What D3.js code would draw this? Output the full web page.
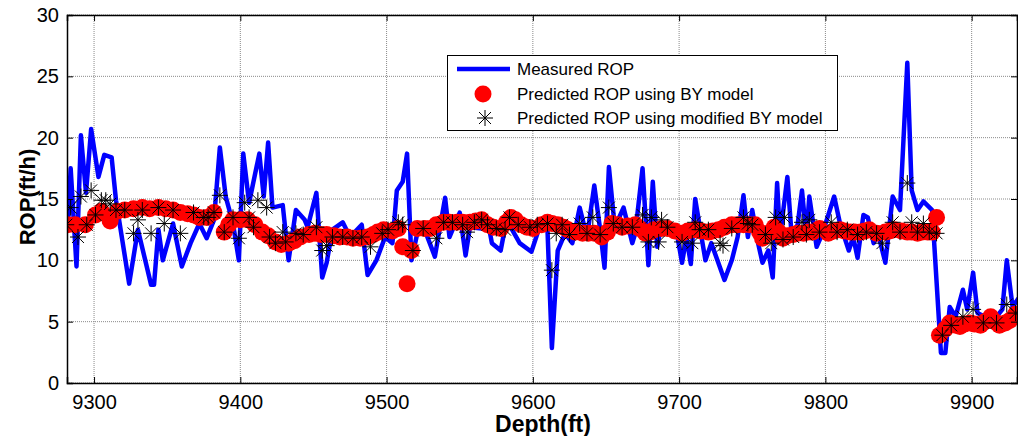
<!DOCTYPE html>
<html>
<head>
<meta charset="utf-8">
<script src="https://d3js.org/d3.v7.min.js"></script>
<style>
  html, body { margin: 0; padding: 0; background: #fff; }
  svg { display: block; font-family: "Liberation Sans", Arial, sans-serif; }
  .tick text { fill: #000; }
</style>
</head>
<body>
<div id="chart"></div>
<script>
// measured ROP (blue line)
const measuredDepth = [9282,9284,9288,9291,9294.5,9298,9303,9307,9312,9315,9324,9330,9339,9341,9344,9347,9354,9360,9366,9372,9377,9382,9386,9390,9395,9399,9402,9406,9413,9416,9419,9422,9429,9433,9438,9444,
  9446,9452,9456,9459,9463,9470,9475,9483,9487,9493,9499,9504,9507,9511,9514,9517,9521,9526,9533,9540,9543,9550,9554,9557,9565,9569,9572,9578,9582,9591,9599,9604,
  9606,9610,9613,9617,9622,9627,9632,9637,9642,9646,9649,9652,9656,9662,9668,9670,9675,9679,9682,9685,9688,9692,9698,9702,9705,9708,9711,9716,9718,9722,9731,9736,9740,9744,9747,9750,9754,9757,9761,9764,
  9767,9769,9774,9777,9781,9784,9787,9789,9794,9798,9806,9810,9816,9819,9822,9826,9829,9833,9836,9841,9846,9851,9856,9859,9863,9867,9873,9879,9882,9885,9889,9894,9897,9901,9904,9909,9915,9921,9924,9928,9932];
const measuredRop = [12.5,17.5,9.5,20.2,15.5,20.7,16.8,18.6,18.4,14.9,8.1,12.5,8.0,8.0,12.5,10.0,13.0,9.5,11.4,13.0,11.8,13.3,19.2,15.2,13.0,10.0,18.7,14.7,18.7,15.2,19.6,14.3,14.5,10.0,14.1,13.3,
  12.7,15.5,8.6,9.8,12.5,13.1,11.9,12.9,8.8,10.0,11.9,11.4,15.7,16.4,18.7,10.0,12.2,12.5,10.3,15.1,11.9,13.9,10.4,12.7,12.6,13.3,11.4,10.8,13.3,11.4,10.7,12.5,
  12.7,12.5,2.85,10.8,12.2,11.4,14.3,11.9,16.1,12.5,9.4,17.6,12.7,14.3,11.4,12.2,17.5,9.6,16.4,11.1,13.0,12.5,12.5,9.8,11.9,9.7,15.0,11.4,10.0,11.4,8.4,10.0,11.9,15.3,11.9,14.1,11.4,9.8,10.8,8.6,
  16.3,11.9,16.8,11.9,12.9,15.7,11.9,15.2,11.1,12.2,15.2,13.0,10.8,11.9,10.2,13.7,13.5,11.4,12.2,9.8,15.2,14.1,26.1,15.7,14.1,14.8,14.1,2.45,2.45,6.2,5.4,7.6,6.0,9.0,5.7,5.4,5.1,6.0,10.0,6.2,6.9];

// predicted ROP, BY model (red dots)
const byDepth = [9282,9287,9294,9301,9305,9311,9316,9321,9327,9333,9338,9344,9349,9354,9359,9364,9368,9372,9377,9382,9389,9392,9395,9400,9405,9410,9415,9419,9424,9428,9433,9437,9441,
  9447,9451,9455,9459,9464,9468,9473,9477,9482,9487,9491,9494,9498,9504,9508,9511,9514,9517,9521,9526,9530,9534,9539,9543,9548,9552,9557,9561,9565,9569,9573,9578,9582,9585,9588,9592,9596,9600,
  9606,9610,9613,9617,9621,9624,9629,9634,9638,9642,9647,9651,9654,9658,9661,9665,9670,9673,9677,9680,9683,9688,9692,9697,9702,9706,9711,9715,9720,9723,9727,9731,9736,9740,9744,9748,9752,9755,9757,9761,
  9765,9768,9771,9774,9778,9781,9785,9788,9791,9796,9802,9806,9810,9813,9817,9820,9824,9827,9830,9835,9841,9844,9847,9852,9856,9859,9863,9866,9870,9873,9876,
  9878,9882,9885,9889,9892,9895,9899,9902,9906,9909,9913,9916,9919,9923,9926,9930];
const byRop = [12.9,12.9,12.9,13.7,14.0,13.2,14.0,14.1,14.2,14.3,14.2,14.3,14.2,14.1,13.9,13.8,13.7,13.5,13.5,13.9,12.3,12.9,13.3,13.3,13.3,12.9,12.3,12.0,11.5,11.3,11.4,11.6,11.9,
  12.1,12.2,12.1,12.1,12.0,11.9,11.9,11.8,11.8,11.9,12.1,12.3,12.5,12.4,12.6,11.1,8.1,10.8,12.6,12.6,12.6,12.9,13.1,13.1,13.1,13.1,13.1,13.2,13.3,12.9,12.7,12.6,13.1,13.5,13.3,12.9,12.7,12.6,
  12.9,13.1,13.0,12.9,12.7,12.5,12.3,12.2,12.2,12.2,11.9,12.3,13.0,12.9,12.7,12.8,12.9,12.6,12.2,12.3,12.5,12.6,12.6,12.4,12.2,12.4,12.5,12.4,12.3,12.4,12.5,12.7,12.9,12.9,12.9,12.9,12.9,12.3,11.8,12.2,
  12.7,12.3,11.8,12.0,12.1,12.2,12.2,12.3,12.3,12.6,12.2,12.4,12.5,12.4,12.3,12.3,12.3,12.4,12.5,12.2,12.3,12.4,12.5,12.4,12.3,12.3,12.2,12.3,12.3,12.3,13.5,
  3.9,4.4,4.9,4.7,4.6,4.8,4.9,4.8,4.7,5.0,5.4,5.0,4.7,4.9,5.1,5.6];

// predicted ROP, modified BY model (asterisks)
const modDepth = [9281,9284,9289,9291,9295,9298,9301,9305,9308,9311,9315,9321,9327,9330,9333,9339,9344,9348,9354,9359,9368,9375,9378,9382,9386,9389,9395,9399,9403,9406,9409,9412,9418,9420,9424,9429,9431,9438,9443,
  9452,9456,9459,9463,9470,9477,9483,9489,9497,9501,9508,9511,9518,9525,9534,9539,9545,9552,9555,9560,9565,9569,9575,9581,9584,9590,9598,
  9603,9610,9613,9616,9620,9625,9632,9637,9641,9646,9652,9655,9661,9668,9675,9679,9681,9686,9688,9692,9702,9709,9711,9714,9720,9728,9730,9736,9744,9747,9750,9759,9763,9766,
  9771,9772,9778,9784,9787,9789,9796,9804,9808,9815,9822,9828,9835,9839,9846,9851,9856,9859,9863,9867,9871,9876,
  9880,9886,9894,9901,9908,9917,9924,9930];
const modRop = [12.9,14.3,11.9,15.2,12.9,15.7,13.7,14.9,14.9,14.6,14.1,14.1,12.2,13.3,14.1,12.2,14.3,13.0,14.1,12.2,13.9,13.5,13.5,13.9,15.3,12.3,13.5,11.8,14.7,13.5,12.7,14.9,14.3,11.9,11.4,12.3,11.5,12.2,12.1,
  12.7,10.8,11.2,11.9,11.9,11.8,11.9,11.1,12.2,12.5,13.1,12.9,10.8,12.6,11.8,13.1,13.1,12.9,12.3,13.1,13.3,12.9,12.6,12.5,13.5,12.9,12.7,
  12.9,13.0,9.2,12.2,12.9,12.1,13.0,12.2,13.5,12.1,14.3,13.0,12.7,12.7,13.7,11.5,13.5,11.5,13.3,12.7,11.5,11.4,13.1,12.5,12.5,11.4,11.2,12.6,13.5,13.0,12.9,12.1,11.4,13.5,
  11.7,13.5,11.9,13.1,12.1,13.3,12.3,13.1,12.3,12.5,12.1,12.3,12.2,11.4,13.1,12.3,16.3,13.1,12.3,13.0,12.3,12.2,
  3.9,4.7,5.4,6.0,4.9,4.9,6.4,5.7];

const xTicks = [9300,9400,9500,9600,9700,9800,9900];
const yTicks = [0,5,10,15,20,25,30];
const legendLabels = ["Measured ROP", "Predicted ROP using BY model", "Predicted ROP using modified BY model"];

const W = 1018, H = 436;
const m = { t: 15, r: 1, b: 53, l: 67 };
const svg = d3.select("#chart").append("svg").attr("width", W).attr("height", H);

const x = d3.scaleLinear().domain([9281.5, 9931]).range([m.l, W - m.r]);
const y = d3.scaleLinear().domain([0, 30]).range([H - m.b, m.t]);

svg.append("defs").append("clipPath").attr("id", "clip")
  .append("rect").attr("x", m.l).attr("y", m.t).attr("width", W - m.r - m.l).attr("height", H - m.b - m.t);

// grid
svg.append("g").selectAll("line").data(xTicks).join("line")
  .attr("x1", d => x(d)).attr("x2", d => x(d)).attr("y1", m.t).attr("y2", H - m.b)
  .attr("stroke", "#8a8a8a").attr("stroke-width", 1).attr("stroke-dasharray", "1,1");
svg.append("g").selectAll("line").data(yTicks).join("line")
  .attr("x1", m.l).attr("x2", W - m.r).attr("y1", d => y(d)).attr("y2", d => y(d))
  .attr("stroke", "#8a8a8a").attr("stroke-width", 1).attr("stroke-dasharray", "1,1");

const plot = svg.append("g").attr("clip-path", "url(#clip)");

// measured line
const pts = measuredDepth.map((d, i) => [d, measuredRop[i]]);
plot.append("path").datum(pts)
  .attr("d", d3.line().x(d => x(d[0])).y(d => y(d[1])))
  .attr("fill", "none").attr("stroke", "#0000ff").attr("stroke-width", 4.5)
  .attr("stroke-linejoin", "round");

// BY model dots
plot.append("g").selectAll("circle").data(byDepth.map((d, i) => [d, byRop[i]])).join("circle")
  .attr("cx", d => x(d[0])).attr("cy", d => y(d[1])).attr("r", 8.5).attr("fill", "#ff0000");

// modified BY asterisks
const star = "M-8,0H8M0,-8V8M-6,-6L6,6M-6,6L6,-6";
plot.append("g").selectAll("path").data(modDepth.map((d, i) => [d, modRop[i]])).join("path")
  .attr("transform", d => `translate(${x(d[0])},${y(d[1])})`)
  .attr("d", star).attr("fill", "none").attr("stroke", "#000").attr("stroke-width", 1);

// axes (ticks inside, box on)
svg.append("g").attr("transform", `translate(0,${H - m.b})`)
  .call(d3.axisBottom(x).tickValues(xTicks).tickSize(-6).tickPadding(12).tickFormat(d3.format("d")));
svg.append("g").attr("transform", `translate(${m.l},0)`)
  .call(d3.axisLeft(y).tickValues(yTicks).tickSize(-6).tickPadding(8));
svg.append("g").attr("transform", `translate(0,${m.t})`)
  .call(d3.axisTop(x).tickValues(xTicks).tickSize(-6).tickFormat(""));
svg.append("g").attr("transform", `translate(${W - m.r},0)`)
  .call(d3.axisRight(y).tickValues(yTicks).tickSize(-6).tickFormat(""));
svg.selectAll(".domain").attr("stroke", "#000").attr("stroke-width", 1.5);
svg.selectAll(".tick line").attr("stroke", "#000");
svg.selectAll(".tick text").attr("font-size", 20).attr("font-family", "Liberation Sans, Arial, sans-serif");

// axis labels
svg.append("text").attr("x", 543).attr("y", 432).attr("text-anchor", "middle")
  .attr("font-size", 23).attr("font-weight", "bold").text("Depth(ft)");
svg.append("text").attr("transform", "translate(35,197) rotate(-90)").attr("text-anchor", "middle")
  .attr("font-size", 22).attr("font-weight", "bold").text("ROP(ft/h)");

// legend
const lg = svg.append("g");
lg.append("rect").attr("x", 447.5).attr("y", 55.5).attr("width", 390).attr("height", 75)
  .attr("fill", "#fff").attr("stroke", "#000").attr("stroke-width", 1);
const rowY = [69, 94, 118];
lg.append("line").attr("x1", 457).attr("x2", 510).attr("y1", rowY[0]).attr("y2", rowY[0])
  .attr("stroke", "#0000ff").attr("stroke-width", 4.5);
lg.append("circle").attr("cx", 483).attr("cy", rowY[1]).attr("r", 8.5).attr("fill", "#ff0000");
lg.append("path").attr("transform", `translate(485,${rowY[2]})`).attr("d", star)
  .attr("fill", "none").attr("stroke", "#000");
lg.selectAll("text").data(legendLabels).join("text")
  .attr("x", 517).attr("y", (d, i) => rowY[i] + 6).attr("font-size", 17).text(d => d);
</script>
</body>
</html>
